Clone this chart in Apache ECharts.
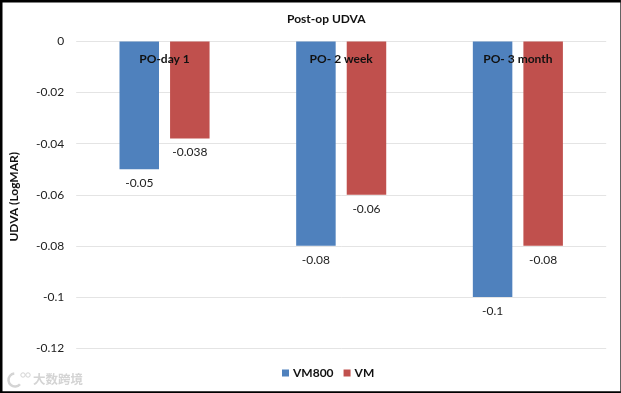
<!DOCTYPE html>
<html>
<head>
<meta charset="utf-8">
<style>
html,body{margin:0;padding:0;background:#fff;}
#c{width:621px;height:393px;}
</style>
<script src="https://cdn.jsdelivr.net/npm/echarts@6/dist/echarts.min.js"></script>
</head>
<body>
<div id="c"></div>
<script>
const categories = ['PO-day 1', 'PO- 2 week', 'PO- 3 month'];
const vm800 = [-0.05, -0.08, -0.1];
const vm = [-0.038, -0.06, -0.08];
const FONT = 'Lato, "Open Sans", sans-serif';
const chart = echarts.init(document.getElementById('c'), null, {renderer: 'canvas'});
const labelOpt = () => ({
  show: true, position: 'bottom', distance: 8, color: '#222', fontFamily: FONT, fontSize: 12,
  formatter: p => String(p.value)
});
chart.setOption({
  animation: false,
  backgroundColor: '#fff',
  title: {
    text: 'Post-op UDVA', left: 282, top: 8,
    textStyle: {fontFamily: FONT, fontSize: 12, fontWeight: 'bold', color: '#111'}
  },
  legend: {
    data: ['VM800', 'VM'], top: 362, left: 277, itemWidth: 7, itemHeight: 7, itemGap: 10,
    icon: 'rect',
    textStyle: {fontFamily: FONT, fontSize: 12, fontWeight: 'bold', color: '#111', padding: [0, 0, 0, -1]}
  },
  grid: {left: 76.2, right: 14.8, top: 41.5, height: 306.5, containLabel: false},
  xAxis: {
    type: 'category', position: 'top', data: categories, z: 10,
    axisLine: {show: false}, axisTick: {show: false},
    axisLabel: {inside: true, margin: 12, fontFamily: FONT, fontSize: 12, fontWeight: 'bold', color: '#111'}
  },
  yAxis: {
    type: 'value', min: -0.12, max: 0, interval: 0.02,
    name: 'UDVA (LogMAR)', nameLocation: 'middle', nameGap: 56,
    nameTextStyle: {fontFamily: FONT, fontSize: 12, fontWeight: 'bold', color: '#111', padding: [0, 4, 0, 0]},
    axisLine: {show: false}, axisTick: {show: false},
    axisLabel: {margin: 12, fontFamily: FONT, fontSize: 12, color: '#222',
      formatter: v => String(Math.round(v * 100) / 100)},
    splitLine: {lineStyle: {color: '#e4e4e4', width: 1}}
  },
  series: [
    {name: 'VM800', type: 'bar', data: vm800, barWidth: 39.5, barGap: '28%',
     itemStyle: {color: '#4f81bd'}, label: labelOpt()},
    {name: 'VM', type: 'bar', data: vm, barWidth: 39.5,
     itemStyle: {color: '#c0504d'}, label: labelOpt()}
  ],
  graphic: [
    {type: 'rect', silent: true, z: 100, shape: {x: 0, y: 0, width: 2.5, height: 393}, style: {fill: '#000'}},
    {type: 'rect', silent: true, z: 100, shape: {x: 0, y: 0, width: 621, height: 2.5}, style: {fill: '#000'}},
    {type: 'rect', silent: true, z: 100, shape: {x: 0, y: 391.3, width: 621, height: 1.7}, style: {fill: '#000'}},
    {type: 'rect', silent: true, z: 100, shape: {x: 620.3, y: 0, width: 0.7, height: 393}, style: {fill: '#222'}},
    {type: 'arc', silent: true, z: 100, shape: {cx: 15, cy: 380, r: 6.5, startAngle: 0.7, endAngle: 4.6, clockwise: true},
     style: {fill: 'none', stroke: '#d4d4d4', lineWidth: 2.5}},
    {type: 'circle', silent: true, z: 100, shape: {cx: 23, cy: 375, r: 2.2}, style: {fill: '#fff', stroke: '#d4d4d4', lineWidth: 1}},
    {type: 'circle', silent: true, z: 100, shape: {cx: 28, cy: 375, r: 2.2}, style: {fill: '#fff', stroke: '#d4d4d4', lineWidth: 1}},
    {type: 'text', silent: true, z: 100, left: 33, top: 373,
     style: {text: '大数跨境', fontFamily: '"Noto Sans CJK SC"', fontSize: 12.5, fontWeight: 'bold', fill: '#d4d4d4'}}
  ]
});
</script>
</body>
</html>
